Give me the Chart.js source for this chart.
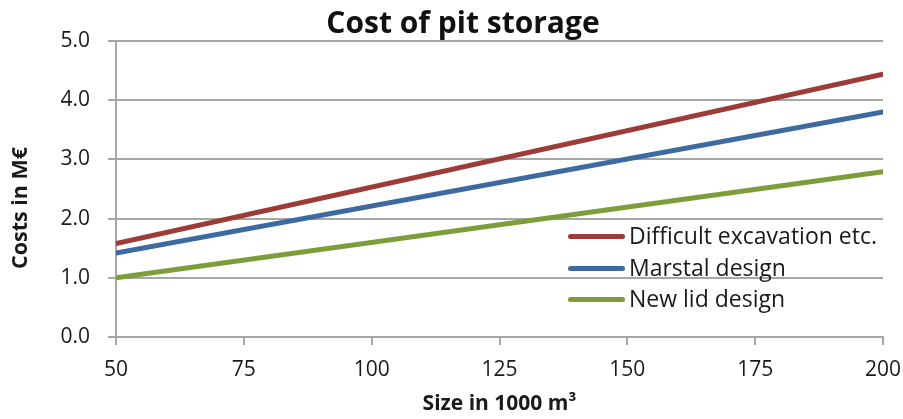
<!DOCTYPE html>
<html>
<head>
<meta charset="utf-8">
<script src="https://cdn.jsdelivr.net/npm/chart.js@4"></script>
<style>
  body { margin: 0; background: #fff; }
  #wrap { position: relative; width: 903px; height: 419px; }
  #legend { position: absolute; left: 568px; top: 220px; font-family: "Open Sans", sans-serif; font-size: 23px; color: #1a1a1a; }
  #legend div { height: 31.5px; line-height: 31.5px; white-space: nowrap; }
  #legend span.sw { display: inline-block; width: 57px; height: 5px; border-radius: 3px; vertical-align: middle; margin-right: 4px; position: relative; top: -1px; }
</style>
</head>
<body>
<div id="wrap">
  <canvas id="chart" width="903" height="419"></canvas>
  <div id="legend"></div>
</div>
<script>
// Datos
const sizes = [50, 200];
const difficult = [1.58, 4.44];
const marstal = [1.42, 3.80];
const newLid = [1.0, 2.79];
const seriesNames = ['Difficult excavation etc.', 'Marstal design', 'New lid design'];
const seriesColors = ['#9c3b37', '#3e6aa2', '#7d9d3b'];

const font = "'Open Sans', sans-serif";
const gridGray = '#a6a6a6';

function toPoints(vals) {
    return sizes.map((x, i) => ({ x: x, y: vals[i] }));
}

// Título y título del eje Y
const titlePlugin = {
    id: 'titleText',
    afterDraw(chart) {
        const ctx = chart.ctx;
        ctx.save();
        ctx.font = "bold 30px " + font;
        ctx.fillStyle = '#111';
        ctx.textAlign = 'center';
        ctx.textBaseline = 'middle';
        ctx.fillText('Cost of pit storage', 463, 24);

        ctx.translate(21, 208);
        ctx.rotate(-Math.PI / 2);
        ctx.font = "bold 21.5px " + font;
        ctx.fillStyle = '#1a1a1a';
        ctx.fillText('Costs in M€', 0, 0);
        ctx.restore();
    }
};

const ctx = document.getElementById('chart').getContext('2d');
const chart = new Chart(ctx, {
    type: 'line',
    data: {
        datasets: [difficult, marstal, newLid].map((vals, i) => ({
            label: seriesNames[i],
            data: toPoints(vals),
            borderColor: seriesColors[i],
            backgroundColor: seriesColors[i],
            borderWidth: 5,
            borderCapStyle: 'round',
            pointRadius: 0,
            tension: 0
        }))
    },
    options: {
        responsive: false,
        animation: false,
        layout: { padding: { left: 6, right: 20, top: 41, bottom: 2 } },
        plugins: {
            legend: { display: false },
            title: { display: false },
            tooltip: { enabled: false }
        },
        scales: {
            x: {
                type: 'linear',
                min: 50,
                max: 200,
                ticks: { stepSize: 25, color: '#1a1a1a', font: { family: font, size: 21 }, padding: 12 },
                grid: { drawOnChartArea: false, drawTicks: true, tickLength: 8, color: gridGray, lineWidth: 2 },
                border: { color: gridGray, width: 2 },
                title: { display: true, text: 'Size in 1000 m³', color: '#1a1a1a', font: { family: font, size: 21, weight: 'bold' }, padding: { top: 0, bottom: 0 } },
                afterFit(scale) {
                    scale.height = 80;
                    scale.paddingRight = 0;
                }
            },
            y: {
                min: 0,
                max: 5,
                ticks: { stepSize: 1, color: '#1a1a1a', font: { family: font, size: 21 }, padding: 18,
                    callback: v => v.toFixed(1) },
                grid: { color: gridGray, lineWidth: 2, tickLength: 8 },
                border: { color: gridGray, width: 2 },
                afterFit(scale) { scale.width = 110; }
            }
        }
    },
    plugins: [titlePlugin]
});

// Leyenda
const legend = document.getElementById('legend');
seriesNames.forEach((name, i) => {
    const row = document.createElement('div');
    row.innerHTML = '<span class="sw" style="background:' + seriesColors[i] + '"></span>' + name;
    legend.appendChild(row);
});
</script>
</body>
</html>
